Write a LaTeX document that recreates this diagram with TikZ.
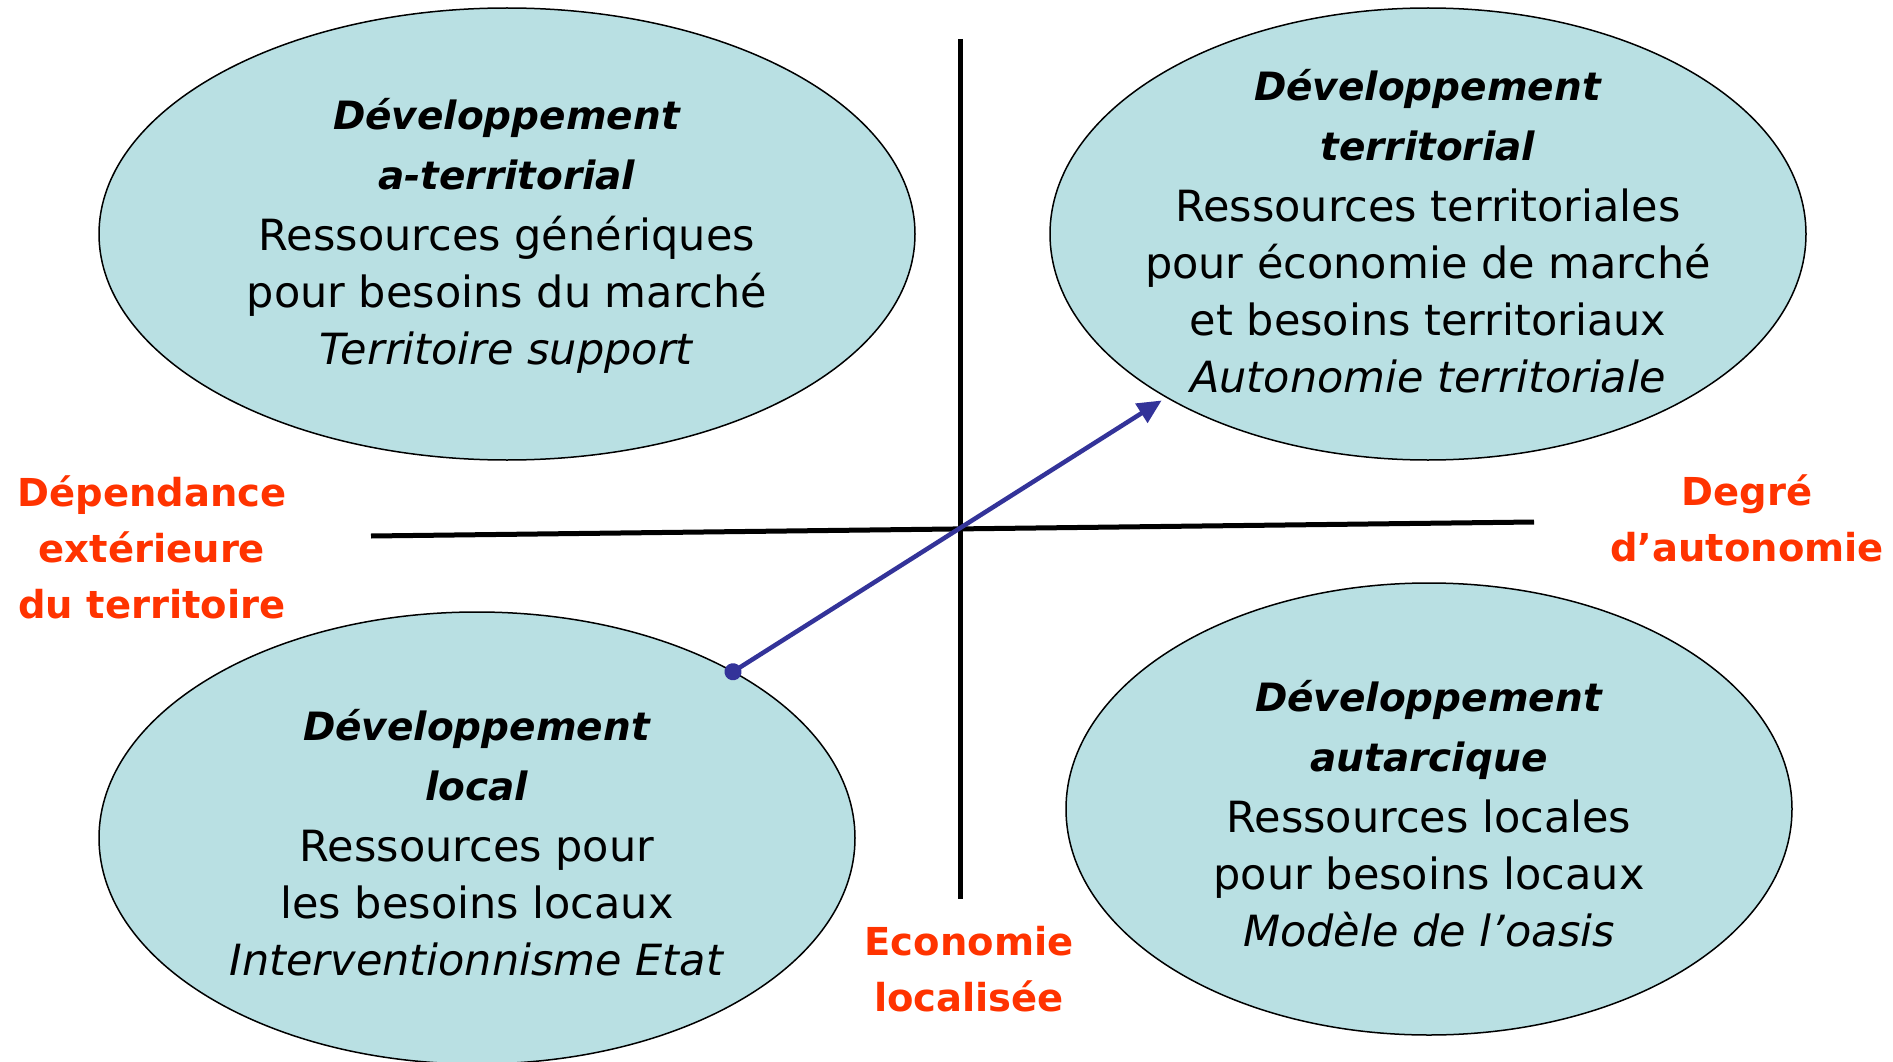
\documentclass[tikz,border=0pt]{standalone}
\usepackage{fontspec}
\setmainfont{DejaVu Sans}
\usepackage{tikz}
\usetikzlibrary{positioning,shapes.geometric,arrows.meta}
\definecolor{bulle}{HTML}{B9E0E3}
\definecolor{axelabel}{HTML}{FF3300}
\definecolor{fleche}{HTML}{333399}
\newcommand{\titre}[1]{{\fontsize{39}{57}\selectfont\textbf{\textit{#1}}}}
\tikzset{
  zone/.style={draw, ellipse, fill=bulle, line width=1.5pt, inner sep=0pt, outer sep=0pt},
  zonetext/.style={align=center, font=\fontsize{43}{57}\selectfont},
  axlabel/.style={align=center, text=axelabel, font=\bfseries\fontsize{38.5}{56}\selectfont},
}
\begin{document}
\begin{tikzpicture}[x=1pt, y=-1pt]
      \useasboundingbox (0,0) rectangle (1893,1062);
      \node[zone, minimum width=816pt, minimum height=452pt] (aterr) at (507,234) {};
      \node[zone, minimum width=756pt, minimum height=452pt] (terr) at (1428,234) {};
      \node[zone, minimum width=756pt, minimum height=452pt] (loc) at (477,838) {};
      \node[zone, minimum width=726pt, minimum height=452pt] (autar) at (1429,809) {};
      \node[zonetext] (aterrtxt) at ([yshift=-2pt]aterr.center) {\titre{Développement}\\[3pt]
        \titre{a-territorial}\\[4pt]Ressources génériques\\
        pour besoins du marché\\\textit{Territoire support}};
      \node[zonetext] (terrtxt) at ([yshift=3pt]terr.center) {\titre{Développement}\\[3pt]
        \titre{territorial}\\[4pt]Ressources territoriales\\
        pour économie de marché\\et besoins territoriaux\\\textit{Autonomie territoriale}};
      \node[zonetext] (loctxt) at ([yshift=-5pt]loc.center) {\titre{Développement}\\[3pt]
        \titre{local}\\[4pt]Ressources pour\\
        les besoins locaux\\\textit{Interventionnisme Etat}};
      \node[zonetext] (autartxt) at ([yshift=-5pt]autar.center) {\titre{Développement}\\[3pt]
        \titre{autarcique}\\[4pt]Ressources locales\\
        pour besoins locaux\\\textit{Modèle de l’oasis}};
      % axes
      \coordinate (haut) at (960,39);
      \coordinate (bas) at (960,899);
      \coordinate (gauche) at (371,536);
      \coordinate (droite) at (1534,522);
      \draw[line width=5pt] (haut) -- (bas);
      \draw[line width=5pt] (gauche) -- (droite);
      \node[axlabel] (dependance) at (152,547) {Dépendance\\extérieure\\du territoire};
      \node[axlabel] (degre) at (1747,518) {Degré\\d’autonomie};
      \node[axlabel] (economie) at (969,969) {Economie\\localisée};
      \draw[fleche, line width=4.5pt, shorten <=-8.5pt, shorten >=6pt,
        {Circle[length=17pt]}-{Triangle[length=24pt,width=22pt]}] (loc.33) -- (terr.212);
\end{tikzpicture}
\end{document}
